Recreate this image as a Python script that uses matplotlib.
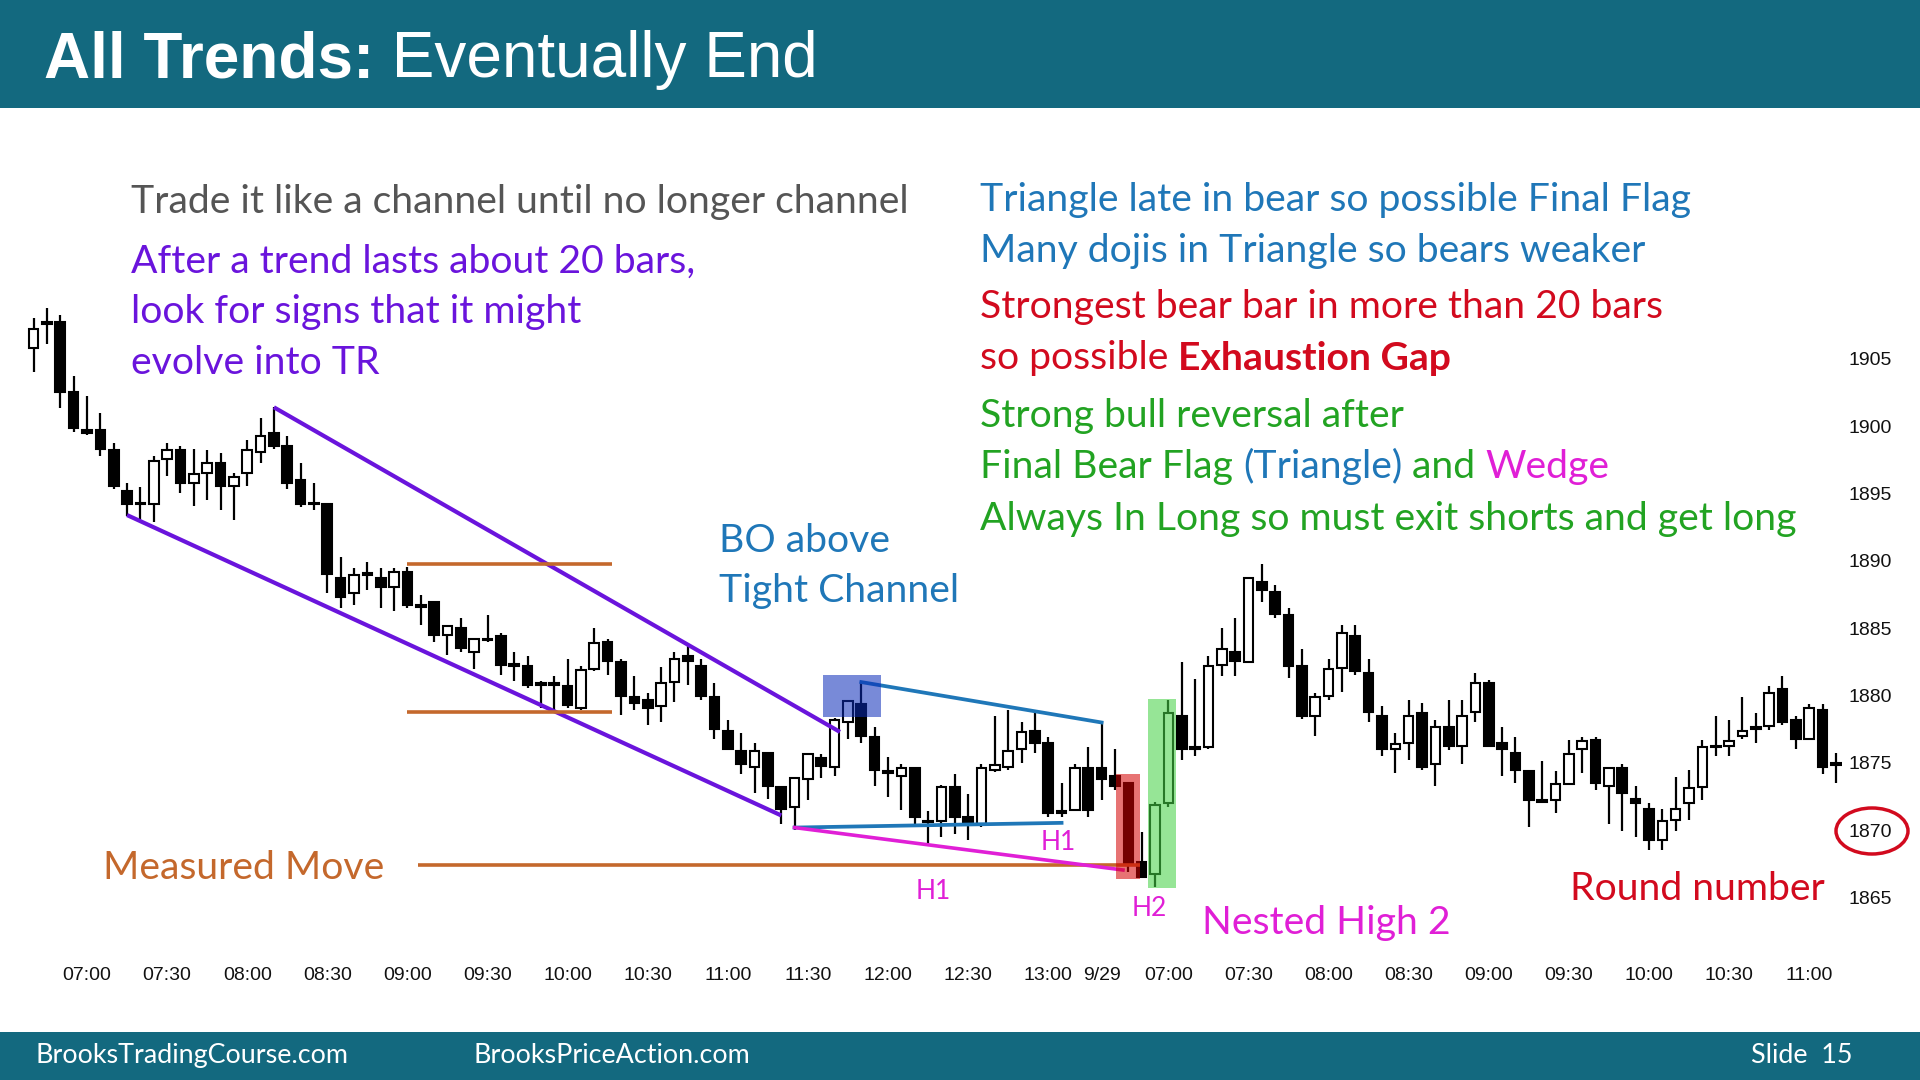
import matplotlib.pyplot as plt
from matplotlib.patches import Rectangle, Ellipse

# 5 min bars, 6:40 day 1 through 11:10 day 2
opens = [1905.8, 1907.7, 1907.75, 1902.5, 1899.7, 1899.75, 1898.25, 1895.2, 1894.2, 1894.25,
         1897.55, 1898.25, 1895.8, 1896.55, 1897.3, 1895.55, 1896.55, 1898.1, 1899.5, 1898.55,
         1896.0, 1894.3, 1894.2, 1888.7, 1887.6, 1888.95, 1888.7, 1888.05, 1889.2, 1886.6,
         1886.95, 1884.5, 1885.0, 1883.25, 1884.1, 1884.45, 1882.2, 1882.2, 1880.8, 1880.8,
         1880.7, 1879.05, 1882.0, 1883.95, 1882.5, 1879.9, 1879.65, 1879.2, 1881.0, 1882.95,
         1882.2, 1879.9, 1877.4, 1875.9, 1874.7, 1875.7, 1873.2, 1871.75, 1873.8, 1875.4,
         1874.7, 1878.0, 1879.4, 1876.9, 1874.3, 1874.05, 1874.65, 1870.65, 1870.7, 1873.2,
         1870.95, 1870.5, 1874.5, 1874.7, 1876.0, 1877.4, 1876.45, 1871.3, 1871.5, 1874.65,
         1874.65, 1874.0, 1873.5, 1867.65, 1866.75, 1872.0, 1878.5, 1876.1, 1876.2, 1882.25,
         1883.2, 1882.5, 1888.45, 1887.7, 1886.0, 1882.2, 1878.5, 1879.95, 1882.05, 1884.45,
         1881.7, 1878.5, 1876.0, 1876.45, 1878.7, 1874.95, 1877.7, 1876.25, 1878.8, 1880.95,
         1876.45, 1875.7, 1874.4, 1872.1, 1872.25, 1873.45, 1876.0, 1876.7, 1873.3, 1874.65,
         1872.35, 1871.6, 1869.25, 1870.75, 1872.0, 1873.2, 1876.15, 1876.25, 1877.0, 1877.5,
         1877.75, 1880.45, 1878.2, 1876.75, 1878.9, 1874.85]
highs = [1908.0, 1908.75, 1908.25, 1903.75, 1902.25, 1901.0, 1898.75, 1895.75, 1895.5, 1897.8,
         1898.75, 1898.55, 1898.3, 1898.25, 1898.0, 1896.5, 1899.0, 1900.6, 1901.45, 1899.25,
         1897.3, 1895.75, 1894.2, 1890.25, 1889.45, 1889.95, 1889.45, 1889.45, 1889.55, 1887.45,
         1886.95, 1885.2, 1885.75, 1884.2, 1886.0, 1884.65, 1883.2, 1882.9, 1881.05, 1881.45,
         1882.75, 1882.2, 1885.0, 1884.2, 1882.75, 1881.45, 1880.2, 1882.15, 1883.2, 1883.65,
         1882.75, 1880.95, 1878.15, 1877.25, 1876.5, 1875.7, 1873.2, 1873.85, 1875.65, 1875.65,
         1878.3, 1879.6, 1880.95, 1877.7, 1875.45, 1874.9, 1874.65, 1871.4, 1873.35, 1874.2,
         1872.7, 1874.9, 1878.5, 1878.95, 1878.0, 1878.7, 1876.9, 1873.5, 1874.9, 1876.2,
         1878.0, 1876.0, 1873.6, 1869.9, 1872.1, 1879.65, 1882.5, 1881.2, 1882.95, 1885.0,
         1885.75, 1888.7, 1889.75, 1888.2, 1886.5, 1883.45, 1880.2, 1882.75, 1885.25, 1885.25,
         1882.75, 1879.25, 1877.2, 1879.65, 1879.45, 1878.2, 1879.65, 1879.65, 1881.7, 1881.15,
         1877.7, 1876.95, 1874.4, 1875.15, 1874.4, 1876.7, 1876.95, 1876.95, 1874.65, 1874.9,
         1873.25, 1872.0, 1871.6, 1873.95, 1874.45, 1876.7, 1878.45, 1878.2, 1879.9, 1878.7,
         1880.7, 1881.45, 1878.45, 1879.4, 1879.4, 1875.7]
lows = [1904.05, 1906.1, 1901.35, 1899.6, 1899.35, 1897.8, 1895.3, 1893.3, 1893.0, 1892.85,
        1896.3, 1895.05, 1894.05, 1894.55, 1893.8, 1893.05, 1895.55, 1897.3, 1898.3, 1895.3,
        1894.0, 1893.8, 1887.6, 1886.5, 1886.75, 1887.8, 1886.5, 1886.3, 1886.5, 1885.25,
        1884.0, 1883.0, 1883.25, 1882.0, 1884.0, 1881.55, 1881.05, 1880.55, 1879.05, 1878.8,
        1879.05, 1878.95, 1881.8, 1881.5, 1878.55, 1878.95, 1877.8, 1878.0, 1879.55, 1880.8,
        1879.7, 1876.75, 1876.0, 1874.2, 1872.75, 1872.3, 1870.5, 1870.0, 1872.25, 1873.85,
        1874.0, 1876.75, 1876.5, 1873.25, 1872.5, 1871.5, 1870.5, 1869.0, 1869.5, 1869.7,
        1869.25, 1870.25, 1874.3, 1874.5, 1875.0, 1875.75, 1870.95, 1871.0, 1871.5, 1871.0,
        1872.25, 1873.0, 1866.9, 1866.45, 1865.8, 1871.75, 1875.2, 1875.5, 1876.0, 1881.45,
        1881.45, 1882.5, 1886.95, 1885.75, 1881.3, 1878.25, 1877.0, 1879.7, 1880.3, 1881.55,
        1878.0, 1875.5, 1874.25, 1875.2, 1874.5, 1873.25, 1875.95, 1874.95, 1878.0, 1876.25,
        1874.0, 1873.5, 1870.25, 1872.0, 1871.25, 1873.45, 1874.25, 1873.0, 1870.5, 1869.95,
        1869.5, 1868.55, 1868.55, 1869.95, 1870.75, 1872.25, 1875.5, 1875.5, 1876.75, 1876.5,
        1877.45, 1877.8, 1876.0, 1876.75, 1874.2, 1873.5]
closes = [1907.2, 1907.6, 1902.55, 1899.85, 1899.5, 1898.3, 1895.55, 1894.25, 1894.2, 1897.45,
          1898.2, 1895.8, 1896.45, 1897.25, 1895.55, 1896.2, 1898.25, 1899.25, 1898.55, 1895.8,
          1894.25, 1894.2, 1889.0, 1887.3, 1888.95, 1888.95, 1888.05, 1889.2, 1886.75, 1886.6,
          1884.5, 1885.2, 1883.5, 1884.2, 1884.1, 1882.25, 1882.2, 1880.8, 1880.8, 1880.8,
          1879.3, 1881.9, 1883.9, 1882.6, 1879.95, 1879.45, 1879.05, 1880.9, 1882.7, 1882.6,
          1879.95, 1877.5, 1876.0, 1874.95, 1875.9, 1873.25, 1871.55, 1873.85, 1875.65, 1874.75,
          1878.15, 1879.6, 1877.0, 1874.5, 1874.25, 1874.65, 1871.0, 1870.6, 1873.2, 1870.95,
          1870.5, 1874.65, 1874.85, 1875.9, 1877.3, 1876.5, 1871.25, 1871.3, 1874.65, 1871.5,
          1873.8, 1873.25, 1867.55, 1866.55, 1871.9, 1878.7, 1876.0, 1876.05, 1882.2, 1883.45,
          1882.6, 1888.7, 1887.8, 1886.05, 1882.2, 1878.5, 1879.9, 1881.95, 1884.65, 1881.8,
          1878.75, 1876.0, 1876.4, 1878.45, 1874.7, 1877.7, 1876.25, 1878.45, 1880.9, 1876.25,
          1876.0, 1874.45, 1872.25, 1872.1, 1873.45, 1875.65, 1876.65, 1873.5, 1874.65, 1872.75,
          1872.0, 1869.25, 1870.65, 1871.6, 1873.15, 1876.15, 1876.15, 1876.65, 1877.4, 1877.7,
          1880.2, 1878.05, 1876.75, 1879.1, 1874.7, 1874.85]

tick_pos = [4, 10, 16, 22, 28, 34, 40, 46, 52, 58, 64, 70, 76, 80,
            85, 91, 97, 103, 109, 115, 121, 127, 133]
tick_labels = ['07:00', '07:30', '08:00', '08:30', '09:00', '09:30', '10:00', '10:30',
               '11:00', '11:30', '12:00', '12:30', '13:00', '9/29',
               '07:00', '07:30', '08:00', '08:30', '09:00', '09:30', '10:00', '10:30', '11:00']
price_ticks = [1865, 1870, 1875, 1880, 1885, 1890, 1895, 1900, 1905]

# trend lines (bar index, price)
channel_top_x, channel_top_y = [18, 60.4], [1901.4, 1877.3]
channel_bot_x, channel_bot_y = [7, 56], [1893.4, 1871.1]
mm_x = [28, 43.3]
mm_top, mm_bot = 1889.8, 1878.75
mm_target_x, mm_target = [28.8, 82.9], 1867.4
tri_top_x, tri_top_y = [62, 80], [1881.0, 1878.0]
tri_bot_x, tri_bot_y = [57, 77], [1870.2, 1870.55]
wedge_x, wedge_y = [57, 81.6], [1870.2, 1867.05]

TEAL = '#13697f'
PURPLE = '#6a14dc'
BLUE = '#1f77b8'
RED = '#d20a1e'
GREEN = '#22a322'
MAGENTA = '#e01fd6'
ORANGE = '#c4682c'
FONT = 'Lato'

W, H = 1920, 1080
fig = plt.figure(figsize=(19.2, 10.8), dpi=100)
fig.patch.set_facecolor('white')


def fx(x):
    return x / W


def fy(y):
    return 1 - y / H


ax = fig.add_axes([0, fy(950), fx(1842), fy(108) - fy(950)])
ax.set_xlim(-2.517, 135.46)
ax.set_ylim(1861.11, 1923.62)
for s in ax.spines.values():
    s.set_visible(False)
ax.set_facecolor('none')

# candles
idx = list(range(len(opens)))
ax.vlines(idx, lows, highs, color='black', lw=1.6, zorder=2)
bottoms = [min(o, c) for o, c in zip(opens, closes)]
heights = [max(abs(c - o), 0.12) for o, c in zip(opens, closes)]
faces = ['white' if c > o else 'black' for o, c in zip(opens, closes)]
ax.bar(idx, heights, bottom=bottoms, width=0.72, color=faces, edgecolor='black',
       linewidth=1.5, zorder=3)

# lines
ax.plot(channel_top_x, channel_top_y, color=PURPLE, lw=3.0, zorder=5, solid_capstyle='butt')
ax.plot(channel_bot_x, channel_bot_y, color=PURPLE, lw=3.0, zorder=5, solid_capstyle='butt')
ax.hlines([mm_top, mm_bot], mm_x[0], mm_x[1], color=ORANGE, lw=2.6, zorder=5)
ax.hlines(mm_target, mm_target_x[0], mm_target_x[1], color=ORANGE, lw=2.6, zorder=5)
ax.plot(tri_top_x, tri_top_y, color=BLUE, lw=2.7, zorder=5)
ax.plot(tri_bot_x, tri_bot_y, color=BLUE, lw=2.7, zorder=5)
ax.plot(wedge_x, wedge_y, color=MAGENTA, lw=2.6, zorder=5)

# highlight boxes
ax.add_patch(Rectangle((59.15, 1878.43), 4.3, 3.1, facecolor='#0a2ab8', alpha=0.55,
                       lw=0, zorder=6))
ax.add_patch(Rectangle((81.08, 1866.36), 1.8, 7.82, facecolor='#d40000', alpha=0.55,
                       lw=0, zorder=6))
ax.add_patch(Rectangle((83.5, 1865.69), 2.1, 14.03, facecolor='#46d246', alpha=0.57,
                       lw=0, zorder=6))

# axes ticks
ax.set_xticks(tick_pos)
ax.set_xticklabels(tick_labels, fontsize=14, family='Liberation Sans')
ax.set_yticks(price_ticks)
ax.set_yticklabels([str(p) for p in price_ticks], fontsize=14, family='Liberation Sans')
ax.yaxis.tick_right()
ax.tick_params(axis='x', length=0, pad=12.5, colors='#111111')
ax.tick_params(axis='y', length=0, pad=5, colors='#111111')

# header / footer bands
fig.add_artist(Rectangle((0, fy(108)), 1, 108 / H, transform=fig.transFigure,
                         facecolor=TEAL, lw=0, zorder=0))
fig.add_artist(Rectangle((0, 0), 1, 48 / H, transform=fig.transFigure,
                         facecolor=TEAL, lw=0, zorder=0))
t = fig.text(fx(44), fy(77), 'All Trends:', color='white', fontsize=46,
             family='Liberation Sans', weight='bold')
ax.annotate(' Eventually End', xy=(1, 0), xycoords=t, va='bottom', color='white',
            fontsize=46, family='Liberation Sans', annotation_clip=False)

fig.text(fx(35), fy(1063), 'BrooksTradingCourse.com', color='white', fontsize=19.4, family=FONT)
fig.text(fx(474), fy(1063), 'BrooksPriceAction.com', color='white', fontsize=19.4, family=FONT)
fig.text(fx(1751), fy(1063), 'Slide  15', color='white', fontsize=19.4, family=FONT)

# annotations
fs = 28.2
fig.text(fx(131), fy(213), 'Trade it like a channel until no longer channel', color='#555555',
         fontsize=fs, family=FONT)
for yb, line in zip([273, 323, 374], ['After a trend lasts about 20 bars,',
                                      'look for signs that it might', 'evolve into TR']):
    fig.text(fx(131), fy(yb), line, color=PURPLE, fontsize=fs, family=FONT)

fig.text(fx(980), fy(211), 'Triangle late in bear so possible Final Flag', color=BLUE,
         fontsize=fs, family=FONT)
fig.text(fx(980), fy(262), 'Many dojis in Triangle so bears weaker', color=BLUE,
         fontsize=fs, family=FONT)
fig.text(fx(980), fy(318), 'Strongest bear bar in more than 20 bars', color=RED,
         fontsize=fs, family=FONT)
t = fig.text(fx(980), fy(369), 'so possible ', color=RED, fontsize=fs, family=FONT)
ax.annotate('Exhaustion Gap', xy=(1, 0), xycoords=t, va='bottom', color=RED, fontsize=fs,
            family=FONT, weight='bold', annotation_clip=False)
fig.text(fx(980), fy(427), 'Strong bull reversal after', color=GREEN, fontsize=fs, family=FONT)
t = fig.text(fx(980), fy(478), 'Final Bear Flag ', color=GREEN, fontsize=fs, family=FONT)
t = ax.annotate('(Triangle)', xy=(1, 0), xycoords=t, va='bottom', color=BLUE, fontsize=fs,
                family=FONT, annotation_clip=False)
t = ax.annotate(' and ', xy=(1, 0), xycoords=t, va='bottom', color=GREEN, fontsize=fs,
                family=FONT, annotation_clip=False)
ax.annotate('Wedge', xy=(1, 0), xycoords=t, va='bottom', color=MAGENTA, fontsize=fs,
            family=FONT, annotation_clip=False)
fig.text(fx(980), fy(530), 'Always In Long so must exit shorts and get long', color=GREEN,
         fontsize=fs, family=FONT)

fig.text(fx(719), fy(552), 'BO above', color=BLUE, fontsize=fs, family=FONT)
fig.text(fx(719), fy(602), 'Tight Channel', color=BLUE, fontsize=fs, family=FONT)
fig.text(fx(103), fy(879), 'Measured Move', color=ORANGE, fontsize=fs, family=FONT)
fig.text(fx(1570), fy(900), 'Round number', color=RED, fontsize=fs, family=FONT)
fig.text(fx(1202), fy(934), 'Nested High 2', color=MAGENTA, fontsize=fs, family=FONT)
fig.text(fx(1058), fy(850), 'H1', color=MAGENTA, fontsize=19, family=FONT, ha='center')
fig.text(fx(933), fy(899), 'H1', color=MAGENTA, fontsize=19, family=FONT, ha='center')
fig.text(fx(1149), fy(916), 'H2', color=MAGENTA, fontsize=19, family=FONT, ha='center')

fig.add_artist(Ellipse((fx(1872), fy(831)), 72 / W, 46 / H, transform=fig.transFigure,
                       fill=False, edgecolor=RED, lw=2.5))

fig.savefig('out.png', dpi=100)
